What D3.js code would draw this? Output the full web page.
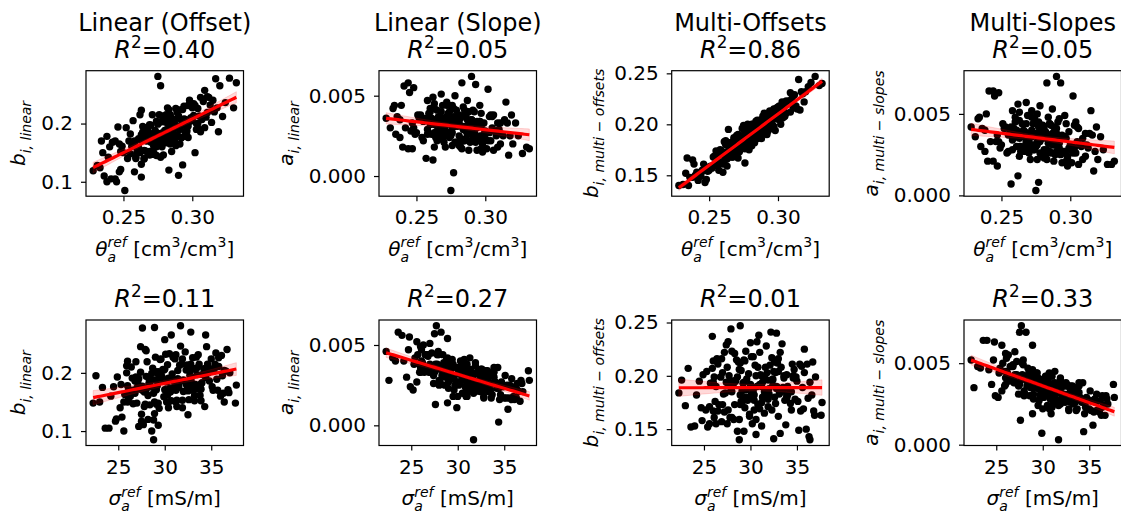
<!DOCTYPE html>
<html>
<head>
<meta charset="utf-8">
<script src="https://cdn.jsdelivr.net/npm/d3@7"></script>
<style>
  body { margin: 0; background: #fff; }
  svg { display: block; font-family: "DejaVu Sans", sans-serif; }
  text { white-space: pre; }
</style>
</head>
<body>
<svg id="chart" width="1121" height="515"></svg>
<script>
// one entry per site, same order in every array
var thetaRef = [
  0.228,0.272,0.286,0.292,0.241,0.244,0.245,0.251,0.236,0.238,
  0.247,0.327,0.317,0.315,0.332,0.320,0.275,0.277,0.290,0.283,
  0.293,0.302,0.257,0.262,0.240,0.244,0.247,0.235,0.258,0.265,
  0.270,0.278,0.284,0.290,0.296,0.262,0.268,0.275,0.281,0.287,
  0.293,0.299,0.305,0.310,0.255,0.260,0.266,0.271,0.276,0.282,
  0.288,0.294,0.300,0.307,0.313,0.259,0.263,0.269,0.273,0.279,
  0.285,0.291,0.297,0.303,0.309,0.256,0.261,0.267,0.272,0.277,
  0.283,0.289,0.295,0.301,0.306,0.311,0.264,0.270,0.274,0.280,
  0.286,0.292,0.298,0.304,0.258,0.263,0.268,0.273,0.279,0.284,
  0.290,0.296,0.302,0.308,0.253,0.257,0.265,0.271,0.276,0.281,
  0.287,0.292,0.298,0.304,0.311,0.318,0.314,0.322,0.319,0.312,
  0.309,0.306,0.316,0.324,0.330,0.234,0.238,0.242,0.246,0.252,
  0.249,0.231,0.239,0.250,0.254,0.233,0.248,0.285,0.291,0.265,
  0.270,0.258,0.255,0.265,0.298,0.282,0.278,0.268,0.262,0.287,
  0.296,0.274,0.260,0.276,0.283,0.289,0.294,0.269,0.264,0.279,
  0.286,0.300,0.271,0.261,0.293,0.281,0.267,0.285,0.303,0.275,
  0.297,0.259,0.288,0.278,0.272,0.263,0.263,0.276,0.260,0.248,0.264,
  0.266,0.271,0.279,0.284,0.288,0.292,0.297,0.263,0.268,0.274,
  0.280,0.285,0.291,0.295,0.270,0.276,0.282,0.287,0.299,0.265,
  0.273,0.278,0.283,0.289,0.294,0.301,0.267,0.272,0.277,0.281,
  0.286,0.290,0.296,0.262,0.269,0.275,0.280,0.284,0.293,0.305
];
var sigmaRef = [
  28.8,22.3,22.6,23.3,24.0,23.6,25.6,28.8,29.3,28.6,
  27.5,28.9,27.6,27.9,32.8,30.7,31.7,34.4,27.7,28.2,
  27.5,28.9,29.9,35.4,36.0,35.2,36.3,36.4,31.2,29.4,
  33.5,30.2,26.8,32.4,30.8,27.3,35.1,28.6,33.9,29.8,
  34.6,26.4,31.6,35.8,32.7,26.1,31.9,36.8,25.7,31.0,
  30.3,36.1,29.0,33.2,30.1,34.3,30.6,27.9,32.0,36.6,
  25.3,31.4,33.6,27.2,32.9,28.2,33.1,29.7,26.6,31.3,
  35.0,28.1,32.1,35.5,29.5,26.9,36.2,30.9,28.4,33.3,
  27.0,34.0,30.5,25.9,36.9,28.9,31.5,34.8,26.0,31.8,
  29.2,35.3,31.2,28.0,30.4,26.3,32.6,29.1,33.7,27.6,
  32.5,29.6,36.4,33.0,31.7,33.4,29.3,25.9,31.0,27.4,
  30.0,34.5,26.0,32.2,30.9,26.5,31.5,30.6,28.0,26.9,
  33.8,32.5,27.8,30.2,35.7,25.4,24.8,24.5,24.9,25.2,
  25.6,24.7,37.6,37.7,36.7,37.0,26.3,27.0,26.0,26.1,
  26.8,24.2,23.0,30.0,32.8,33.3,28.7,33.9,31.0,29.1,
  34.2,32.3,32.8,29.9,31.9,35.6,34.4,30.7,34.7,27.1,
  29.4,31.9,35.8,32.4,30.4,27.2,29.5,33.0,31.2,33.2,28.4,
  30.1,28.3,31.5,29.6,32.7,30.0,28.5,32.3,29.3,31.4,
  27.8,33.5,28.8,34.9,32.0,29.0,30.6,27.4,32.6,34.0,
  26.2,33.6,30.4,31.1,32.4,30.3,27.6,33.2,28.0,34.6,
  31.2,26.5,33.0,31.3,30.8,32.9,28.9,33.9,29.3,28.3
];
var bLinear = [
  0.119,0.148,0.195,0.175,0.105,0.105,0.100,0.085,0.110,0.100,
  0.117,0.278,0.277,0.240,0.270,0.265,0.281,0.265,0.111,0.120,
  0.129,0.150,0.205,0.215,0.160,0.170,0.165,0.150,0.170,0.139,
  0.197,0.184,0.165,0.213,0.189,0.172,0.176,0.199,0.172,0.206,
  0.203,0.210,0.213,0.211,0.182,0.155,0.153,0.171,0.163,0.227,
  0.162,0.230,0.227,0.207,0.232,0.142,0.174,0.146,0.188,0.203,
  0.180,0.190,0.231,0.190,0.193,0.161,0.174,0.193,0.147,0.142,
  0.224,0.219,0.186,0.234,0.186,0.219,0.195,0.174,0.145,0.206,
  0.174,0.197,0.233,0.200,0.166,0.130,0.186,0.186,0.178,0.215,
  0.178,0.204,0.231,0.238,0.140,0.167,0.154,0.171,0.215,0.177,
  0.169,0.224,0.204,0.226,0.246,0.227,0.202,0.212,0.186,0.245,
  0.257,0.245,0.220,0.236,0.227,0.170,0.178,0.168,0.194,0.193,
  0.161,0.128,0.142,0.150,0.170,0.124,0.121,0.176,0.193,0.140,
  0.150,0.117,0.148,0.179,0.240,0.200,0.160,0.148,0.150,0.170,
  0.186,0.160,0.150,0.171,0.205,0.180,0.208,0.152,0.185,0.146,
  0.207,0.205,0.215,0.159,0.224,0.189,0.192,0.152,0.200,0.183,
  0.196,0.140,0.226,0.213,0.150,0.108,0.223,0.170,0.150,0.152,0.183,
  0.171,0.182,0.175,0.199,0.196,0.206,0.176,0.181,0.148,0.204,
  0.167,0.209,0.165,0.207,0.168,0.202,0.167,0.201,0.205,0.183,
  0.167,0.172,0.191,0.224,0.178,0.214,0.170,0.161,0.171,0.215,
  0.187,0.191,0.178,0.153,0.198,0.183,0.188,0.181,0.198,0.190
];
var aLinear = [
  0.0036,0.0046,0.0028,0.0040,0.0056,0.0058,0.0052,0.0038,0.0037,0.0035,
  0.0033,0.0014,0.0013,0.0046,0.0017,0.0020,-0.0009,0.0002,0.0062,0.0058,
  0.0057,0.0054,0.0011,0.0010,0.0018,0.0017,0.0017,0.0026,0.0029,0.0041,
  0.0021,0.0034,0.0043,0.0022,0.0034,0.0033,0.0031,0.0025,0.0033,0.0026,
  0.0024,0.0033,0.0030,0.0029,0.0022,0.0040,0.0037,0.0028,0.0044,0.0018,
  0.0040,0.0016,0.0023,0.0028,0.0025,0.0036,0.0032,0.0044,0.0027,0.0021,
  0.0038,0.0032,0.0017,0.0037,0.0033,0.0035,0.0026,0.0025,0.0044,0.0042,
  0.0017,0.0027,0.0033,0.0017,0.0038,0.0033,0.0024,0.0032,0.0044,0.0021,
  0.0038,0.0027,0.0020,0.0038,0.0026,0.0042,0.0027,0.0025,0.0036,0.0022,
  0.0035,0.0025,0.0022,0.0025,0.0038,0.0036,0.0035,0.0034,0.0019,0.0038,
  0.0035,0.0022,0.0022,0.0022,0.0020,0.0025,0.0035,0.0033,0.0038,0.0026,
  0.0018,0.0016,0.0033,0.0025,0.0018,0.0044,0.0024,0.0030,0.0028,0.0036,
  0.0026,0.0030,0.0044,0.0027,0.0024,0.0042,0.0055,0.0030,0.0024,0.0022,
  0.0027,0.0047,0.0034,0.0028,0.0015,0.0021,0.0050,0.0051,0.0049,0.0047,
  0.0044,0.0040,0.0042,0.0035,0.0023,0.0032,0.0030,0.0036,0.0027,0.0041,
  0.0023,0.0028,0.0018,0.0036,0.0021,0.0025,0.0023,0.0041,0.0027,0.0033,
  0.0031,0.0039,0.0016,0.0021,0.0037,0.0045,0.0018,0.0030,0.0032,0.0030,0.0033,
  0.0032,0.0031,0.0033,0.0029,0.0028,0.0027,0.0039,0.0027,0.0040,0.0024,
  0.0038,0.0022,0.0041,0.0024,0.0032,0.0027,0.0036,0.0031,0.0026,0.0027,
  0.0039,0.0031,0.0031,0.0021,0.0034,0.0027,0.0034,0.0034,0.0037,0.0019,
  0.0031,0.0035,0.0034,0.0035,0.0024,0.0027,0.0031,0.0030,0.0031,0.0037
];
var bMultiOffsets = [
  0.140,0.184,0.196,0.207,0.153,0.152,0.155,0.159,0.148,0.148,
  0.155,0.247,0.232,0.244,0.240,0.232,0.181,0.185,0.200,0.193,
  0.208,0.212,0.162,0.167,0.150,0.149,0.143,0.140,0.175,0.170,
  0.189,0.181,0.199,0.191,0.208,0.184,0.176,0.199,0.179,0.202,
  0.198,0.216,0.208,0.225,0.174,0.161,0.178,0.167,0.193,0.192,
  0.186,0.211,0.205,0.222,0.218,0.174,0.159,0.186,0.188,0.182,
  0.204,0.199,0.198,0.222,0.212,0.159,0.183,0.177,0.173,0.194,
  0.195,0.194,0.210,0.209,0.223,0.216,0.179,0.173,0.196,0.185,
  0.203,0.190,0.210,0.207,0.163,0.173,0.185,0.178,0.194,0.203,
  0.193,0.211,0.200,0.223,0.168,0.155,0.180,0.186,0.177,0.193,
  0.204,0.197,0.194,0.216,0.228,0.230,0.215,0.237,0.222,0.229,
  0.231,0.211,0.214,0.241,0.238,0.167,0.165,0.145,0.161,0.157,
  0.154,0.141,0.161,0.155,0.169,0.152,0.158,0.195,0.201,0.168,
  0.171,0.170,0.163,0.175,0.213,0.199,0.190,0.173,0.167,0.199,
  0.199,0.182,0.172,0.191,0.188,0.208,0.213,0.181,0.169,0.175,
  0.187,0.217,0.190,0.164,0.196,0.189,0.168,0.190,0.206,0.183,
  0.214,0.171,0.203,0.197,0.177,0.166,0.180,0.162,0.153,0.146,0.195,
  0.182,0.173,0.199,0.187,0.203,0.192,0.215,0.168,0.187,0.180,
  0.196,0.186,0.206,0.199,0.183,0.176,0.200,0.194,0.213,0.182,
  0.176,0.200,0.182,0.201,0.196,0.218,0.168,0.188,0.185,0.200,
  0.190,0.211,0.204,0.180,0.173,0.189,0.182,0.201,0.194,0.221
];
var aMultiSlopes = [
  0.0042,0.0052,0.0035,0.0047,0.0064,0.0064,0.0061,0.0044,0.0041,0.0040,
  0.0037,0.0019,0.0015,0.0052,0.0021,0.0022,0.0003,0.0008,0.0073,0.0069,
  0.0069,0.0061,0.0007,0.0012,0.0021,0.0021,0.0018,0.0030,0.0034,0.0044,
  0.0026,0.0037,0.0048,0.0027,0.0036,0.0038,0.0033,0.0030,0.0036,0.0031,
  0.0026,0.0039,0.0033,0.0031,0.0027,0.0045,0.0040,0.0030,0.0050,0.0023,
  0.0042,0.0020,0.0028,0.0031,0.0029,0.0038,0.0035,0.0049,0.0031,0.0024,
  0.0044,0.0035,0.0021,0.0043,0.0035,0.0040,0.0030,0.0030,0.0048,0.0045,
  0.0022,0.0031,0.0036,0.0020,0.0041,0.0038,0.0027,0.0037,0.0047,0.0025,
  0.0043,0.0029,0.0024,0.0045,0.0028,0.0046,0.0032,0.0028,0.0041,0.0027,
  0.0038,0.0027,0.0026,0.0030,0.0042,0.0042,0.0037,0.0038,0.0022,0.0042,
  0.0038,0.0027,0.0023,0.0026,0.0024,0.0027,0.0038,0.0036,0.0042,0.0031,
  0.0022,0.0019,0.0037,0.0028,0.0019,0.0048,0.0027,0.0033,0.0033,0.0041,
  0.0029,0.0036,0.0050,0.0031,0.0026,0.0047,0.0063,0.0037,0.0030,0.0029,
  0.0033,0.0052,0.0037,0.0029,0.0018,0.0025,0.0055,0.0057,0.0056,0.0053,
  0.0049,0.0046,0.0048,0.0038,0.0028,0.0035,0.0035,0.0038,0.0030,0.0043,
  0.0026,0.0031,0.0022,0.0040,0.0025,0.0028,0.0027,0.0044,0.0029,0.0038,
  0.0035,0.0041,0.0021,0.0026,0.0040,0.0051,0.0024,0.0033,0.0036,0.0033,0.0038,
  0.0036,0.0036,0.0037,0.0034,0.0031,0.0032,0.0044,0.0030,0.0044,0.0028,
  0.0043,0.0027,0.0045,0.0027,0.0035,0.0031,0.0039,0.0036,0.0029,0.0029,
  0.0044,0.0033,0.0035,0.0025,0.0037,0.0031,0.0039,0.0036,0.0042,0.0023,
  0.0034,0.0041,0.0036,0.0038,0.0028,0.0030,0.0035,0.0032,0.0035,0.0042
];

var modelTitles = ["Linear (Offset)", "Linear (Slope)", "Multi-Offsets", "Multi-Slopes"];
var r2Theta = ["0.40", "0.05", "0.86", "0.05"];
var r2Sigma = ["0.11", "0.27", "0.01", "0.33"];
var xTicksTheta = [0.25, 0.30];
var xTicksSigma = [25, 30, 35];
var yTicks = [[0.1, 0.2], [0.000, 0.005], [0.15, 0.20, 0.25], [0.000, 0.005]];
var yTickFormats = [".1f", ".3f", ".2f", ".3f"];

// mathtext-like label pieces: it = italic, sup/sub = script, under = sub stacked under previous sup
var xLabels = [
  [{s: "θ", it: 1}, {s: "ref", it: 1, sup: 1}, {s: "a", it: 1, sub: 1, under: 1},
   {s: " [cm"}, {s: "3", sup: 1}, {s: "/cm"}, {s: "3", sup: 1}, {s: "]"}],
  [{s: "σ", it: 1}, {s: "ref", it: 1, sup: 1}, {s: "a", it: 1, sub: 1, under: 1},
   {s: " [mS/m]"}]
];
var yLabels = [
  [{s: "b", it: 1}, {s: "i, linear", it: 1, sub: 1}],
  [{s: "a", it: 1}, {s: "i, linear", it: 1, sub: 1}],
  [{s: "b", it: 1}, {s: "i, multi", it: 1, sub: 1}, {s: " − ", sub: 1}, {s: "offsets", it: 1, sub: 1}],
  [{s: "a", it: 1}, {s: "i, multi", it: 1, sub: 1}, {s: " − ", sub: 1}, {s: "slopes", it: 1, sub: 1}]
];

var svg = d3.select("#chart");
var W = 157.5, H = 125.5;
var colLeft = [86, 379, 671.7, 964];
var rowTop = [70.7, 320];
var tickFont = 20, titleFont = 24;

var xData = [thetaRef, sigmaRef];
var yData = [bLinear, aLinear, bMultiOffsets, aMultiSlopes];
var xTicks = [xTicksTheta, xTicksSigma];
var xFormats = [".2f", "d"];

// lay pieces out left to right around x = 0, baseline y = 0
function mathText(g, parts, size) {
  var inner = g.append("g");
  var cx = 0, supStart = 0, supW = 0;
  parts.forEach(function(p) {
    var fs = (p.sub || p.sup) ? size * 0.7 : size;
    var dy = p.sup ? -size * 0.42 : (p.sub ? size * 0.3 : 0);
    var x0 = p.under ? supStart : cx;
    var t = inner.append("text")
      .attr("x", x0).attr("y", dy)
      .attr("font-size", fs)
      .style("font-style", p.it ? "italic" : "normal")
      .text(p.s);
    var w = t.node().getComputedTextLength();
    if (p.under) {
      cx = supStart + Math.max(supW, w);
    } else {
      if (p.sup) { supStart = cx; supW = w; }
      cx = x0 + w;
    }
  });
  inner.attr("transform", "translate(" + (-cx / 2) + ",0)");
  return cx;
}

// least squares fit with 95% band over the x range
function regress(xs, ys) {
  var n = xs.length, mx = d3.mean(xs), my = d3.mean(ys);
  var sxx = 0, sxy = 0;
  for (var i = 0; i < n; i++) {
    sxx += (xs[i] - mx) * (xs[i] - mx);
    sxy += (xs[i] - mx) * (ys[i] - my);
  }
  var slope = sxy / sxx, icpt = my - slope * mx;
  var sse = 0;
  for (var j = 0; j < n; j++) {
    var r = ys[j] - (icpt + slope * xs[j]);
    sse += r * r;
  }
  var se = Math.sqrt(sse / (n - 2));
  var ext = d3.extent(xs);
  return d3.range(61).map(function(k) {
    var xv = ext[0] + (ext[1] - ext[0]) * k / 60;
    var yh = icpt + slope * xv;
    var h = 1.97 * se * Math.sqrt(1 / n + (xv - mx) * (xv - mx) / sxx);
    return {x: xv, y: yh, lo: yh - h, hi: yh + h};
  });
}

function padded(lo, hi) {
  var d = (hi - lo) * 0.05;
  return [lo - d, hi + d];
}

function drawPanel(row, col) {
  var xs = xData[row], ys = yData[col];
  var fitPts = regress(xs, ys);
  var xe = d3.extent(xs);
  var yLo = Math.min(d3.min(ys), d3.min(fitPts, function(d) { return d.lo; }));
  var yHi = Math.max(d3.max(ys), d3.max(fitPts, function(d) { return d.hi; }));

  var panelLeft = colLeft[col], panelTop = rowTop[row];
  var x = d3.scaleLinear().domain(padded(xe[0], xe[1])).range([0, W]);
  var y = d3.scaleLinear().domain(padded(yLo, yHi)).range([H, 0]);

  var g = svg.append("g").attr("transform", "translate(" + panelLeft + "," + panelTop + ")");

  g.append("g").selectAll("circle")
    .data(d3.range(xs.length))
    .enter().append("circle")
    .attr("cx", function(i) { return x(xs[i]); })
    .attr("cy", function(i) { return y(ys[i]); })
    .attr("r", 3.7)
    .attr("fill", "#000");

  g.append("path")
    .datum(fitPts)
    .attr("d", d3.area()
      .x(function(d) { return x(d.x); })
      .y0(function(d) { return y(d.lo); })
      .y1(function(d) { return y(d.hi); }))
    .attr("fill", "rgba(255,0,0,0.15)")
    .attr("stroke", "rgba(255,0,0,0.15)")
    .attr("stroke-width", 1);

  g.append("path")
    .datum(fitPts)
    .attr("d", d3.line()
      .x(function(d) { return x(d.x); })
      .y(function(d) { return y(d.y); }))
    .attr("fill", "none")
    .attr("stroke", "red")
    .attr("stroke-width", 3.2);

  g.append("rect")
    .attr("width", W).attr("height", H)
    .attr("fill", "none").attr("stroke", "#000").attr("stroke-width", 1.2);

  var xAxis = g.append("g")
    .attr("transform", "translate(0," + H + ")")
    .call(d3.axisBottom(x).tickValues(xTicks[row]).tickFormat(d3.format(xFormats[row]))
      .tickSize(5).tickPadding(9));
  var yAxis = g.append("g")
    .call(d3.axisLeft(y).tickValues(yTicks[col]).tickFormat(d3.format(yTickFormats[col]))
      .tickSize(5).tickPadding(8));
  [xAxis, yAxis].forEach(function(a) {
    a.select(".domain").remove();
    a.attr("font-size", tickFont).attr("font-family", null);
    a.selectAll("line").attr("stroke", "#000").attr("stroke-width", 1.2);
    a.selectAll("text").attr("fill", "#000");
  });

  // y label sits left of the widest tick label
  var maxW = 0;
  yAxis.selectAll("text").each(function() {
    maxW = Math.max(maxW, this.getComputedTextLength());
  });
  var labX = -13 - maxW - 16;
  var yl = g.append("g")
    .attr("transform", "translate(" + labX + "," + (H / 2) + ") rotate(-90)");
  mathText(yl, yLabels[col], tickFont);

  var xl = g.append("g").attr("transform", "translate(" + (W / 2) + "," + (H + 59.5) + ")");
  mathText(xl, xLabels[row], tickFont);

  // titles
  var r2 = row === 0 ? r2Theta[col] : r2Sigma[col];
  if (row === 0) {
    g.append("text")
      .attr("x", W / 2).attr("y", -40.2)
      .attr("text-anchor", "middle")
      .attr("font-size", titleFont)
      .text(modelTitles[col]);
  }
  var tg = g.append("g").attr("transform", "translate(" + (W / 2) + "," + (-12.8) + ")");
  mathText(tg, [{s: "R", it: 1}, {s: "2", sup: 1}, {s: "=" + r2}], titleFont);
}

for (var r = 0; r < 2; r++) {
  for (var c = 0; c < 4; c++) {
    drawPanel(r, c);
  }
}
</script>
</body>
</html>
